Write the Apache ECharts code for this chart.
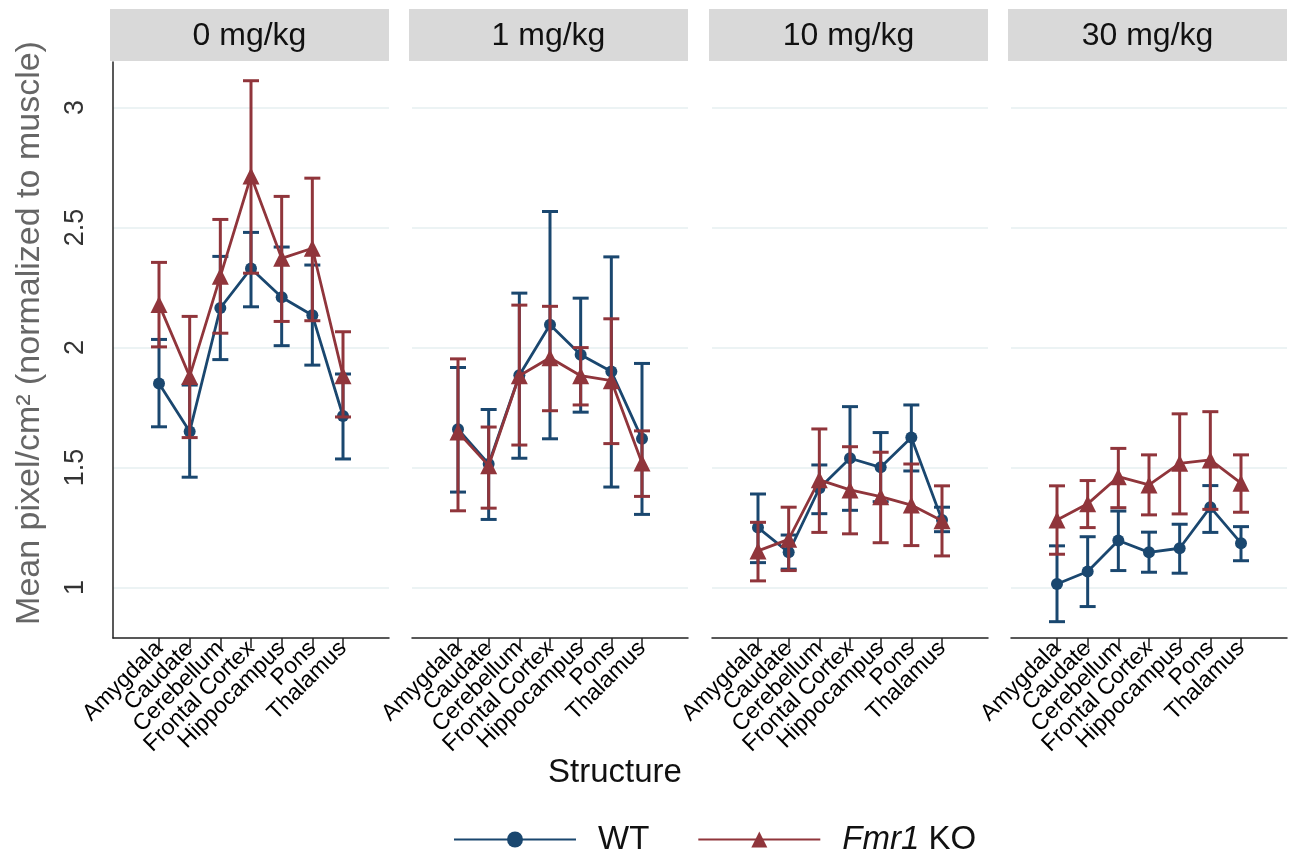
<!DOCTYPE html>
<html>
<head>
<meta charset="utf-8">
<script src="https://cdn.jsdelivr.net/npm/echarts@6/dist/echarts.min.js"></script>
<style>
  html, body { margin: 0; padding: 0; background: #fff; }
  #chart { width: 1295px; height: 856px; }
</style>
</head>
<body>
<div id="chart"></div>
<script>
const categories = ["Amygdala", "Caudate", "Cerebellum", "Frontal Cortex", "Hippocampus", "Pons", "Thalamus"]
const doses = ["0 mg/kg", "1 mg/kg", "10 mg/kg", "30 mg/kg"]
const yTicks = [1, 1.5, 2, 2.5, 3]

// one row per dose, one value per structure
const wtMean = [
  [1.85, 1.65, 2.165, 2.33, 2.21, 2.135, 1.715],
  [1.66, 1.515, 1.885, 2.095, 1.97, 1.9, 1.62],
  [1.25, 1.147, 1.414, 1.539, 1.501, 1.625, 1.282],
  [1.015, 1.067, 1.196, 1.147, 1.164, 1.335, 1.185],
]
const wtLow = [
  [1.67, 1.46, 1.95, 2.17, 2.008, 1.927, 1.536],
  [1.398, 1.284, 1.539, 1.62, 1.731, 1.419, 1.305],
  [1.104, 1.077, 1.308, 1.322, 1.358, 1.486, 1.233],
  [0.858, 0.921, 1.071, 1.064, 1.06, 1.23, 1.112],
]
const wtHigh = [
  [2.034, 1.844, 2.38, 2.48, 2.419, 2.344, 1.89],
  [1.917, 1.742, 2.227, 2.567, 2.206, 2.378, 1.934],
  [1.39, 1.219, 1.511, 1.754, 1.646, 1.761, 1.335],
  [1.174, 1.212, 1.319, 1.231, 1.264, 1.425, 1.254],
]
const koMean = [
  [2.18, 1.88, 2.297, 2.715, 2.372, 2.414, 1.883],
  [1.648, 1.508, 1.883, 1.958, 1.883, 1.862, 1.519],
  [1.153, 1.201, 1.449, 1.407, 1.379, 1.344, 1.279],
  [1.282, 1.349, 1.462, 1.428, 1.518, 1.532, 1.435],
]
const koLow = [
  [2.003, 1.625, 2.06, 2.31, 2.109, 2.112, 1.711],
  [1.32, 1.331, 1.594, 1.737, 1.761, 1.6, 1.38],
  [1.028, 1.071, 1.23, 1.224, 1.187, 1.175, 1.132],
  [1.139, 1.25, 1.333, 1.303, 1.307, 1.326, 1.314],
]
const koHigh = [
  [2.355, 2.13, 2.534, 3.112, 2.63, 2.706, 2.066],
  [1.953, 1.669, 2.177, 2.172, 2.0, 2.12, 1.653],
  [1.272, 1.335, 1.661, 1.587, 1.564, 1.515, 1.424],
  [1.424, 1.446, 1.58, 1.553, 1.724, 1.733, 1.553],
]

const WT_COLOR = "#1a476f"
const KO_COLOR = "#90353b"
const FONT = "'Liberation Sans', Arial, Helvetica, sans-serif"

const panelLeft = [113, 412, 712, 1011]
const panelWidth = 276
const gridTop = 62
const gridHeight = 576

// blank slot at each end gives the empty margin Stata leaves inside each panel
const xSlots = ["", ...categories, " "]

const chart = echarts.init(document.getElementById("chart"))

const grids = []
const xAxes = []
const yAxes = []
const series = []
const graphics = []

const errorBar = (color) => (params, api) => {
  const x = api.value(0)
  const lo = api.coord([x, api.value(1)])
  const hi = api.coord([x, api.value(2)])
  const half = 8
  const style = { stroke: color, lineWidth: 3 }
  return {
    type: "group",
    children: [
      { type: "line", shape: { x1: lo[0], y1: lo[1], x2: hi[0], y2: hi[1] }, style },
      { type: "line", shape: { x1: lo[0] - half, y1: lo[1], x2: lo[0] + half, y2: lo[1] }, style },
      { type: "line", shape: { x1: hi[0] - half, y1: hi[1], x2: hi[0] + half, y2: hi[1] }, style },
    ],
  }
}

const isReal = (i) => i > 0 && i < xSlots.length - 1

doses.forEach((dose, d) => {
  grids.push({ left: panelLeft[d], top: gridTop, width: panelWidth, height: gridHeight })

  xAxes.push({
    type: "category",
    gridIndex: d,
    data: xSlots,
    boundaryGap: true,
    axisLine: { show: true, onZero: false, lineStyle: { color: "#222", width: 1.5 } },
    axisTick: {
      show: true,
      length: 10,
      alignWithLabel: true,
      interval: (i) => isReal(i),
      lineStyle: { color: "#222", width: 1.5 },
    },
    axisLabel: {
      interval: 0,
      rotate: 45,
      margin: 7,
      fontSize: 23,
      color: "#000",
      fontFamily: FONT,
    },
    splitLine: { show: false },
  })

  yAxes.push({
    type: "value",
    gridIndex: d,
    min: 0.79,
    max: 3.19,
    axisLine: { show: d === 0, onZero: false, lineStyle: { color: "#222", width: 1.5 } },
    axisTick: { show: false, customValues: yTicks },
    axisLabel: {
      show: d === 0,
      customValues: yTicks,
      rotate: 90,
      margin: 24,
      fontSize: 27,
      color: "#333",
      fontFamily: FONT,
    },
    splitLine: { show: true, lineStyle: { color: "#e6eff1", width: 1.5 } },
  })

  const wtErr = categories.map((c, i) => [c, wtLow[d][i], wtHigh[d][i]])
  const koErr = categories.map((c, i) => [c, koLow[d][i], koHigh[d][i]])

  series.push({
    name: "WT-err",
    type: "custom",
    xAxisIndex: d,
    yAxisIndex: d,
    data: wtErr,
    encode: { x: 0, y: [1, 2] },
    renderItem: errorBar(WT_COLOR),
    z: 2,
  })
  series.push({
    name: "WT",
    type: "line",
    xAxisIndex: d,
    yAxisIndex: d,
    data: categories.map((c, i) => [c, wtMean[d][i]]),
    symbol: "circle",
    symbolSize: 12,
    lineStyle: { color: WT_COLOR, width: 2.8 },
    itemStyle: { color: WT_COLOR },
    z: 3,
  })
  series.push({
    name: "KO-err",
    type: "custom",
    xAxisIndex: d,
    yAxisIndex: d,
    data: koErr,
    encode: { x: 0, y: [1, 2] },
    renderItem: errorBar(KO_COLOR),
    z: 4,
  })
  series.push({
    name: "Fmr1 KO",
    type: "line",
    xAxisIndex: d,
    yAxisIndex: d,
    data: categories.map((c, i) => [c, koMean[d][i]]),
    symbol: "triangle",
    symbolSize: 17,
    lineStyle: { color: KO_COLOR, width: 2.8 },
    itemStyle: { color: KO_COLOR },
    z: 5,
  })

  // facet strip
  graphics.push({
    type: "rect",
    left: panelLeft[d] - 3,
    top: 9,
    shape: { width: panelWidth + 3, height: 52 },
    style: { fill: "#d9d9d9" },
    silent: true,
  })
  graphics.push({
    type: "text",
    x: panelLeft[d] - 3 + (panelWidth + 3) / 2,
    y: 36,
    style: {
      text: dose,
      fontSize: 32,
      fontFamily: FONT,
      fill: "#111",
      align: "center",
      verticalAlign: "middle",
    },
    silent: true,
  })
})

// y axis title
graphics.push({
  type: "text",
  x: 30,
  y: 333,
  rotation: Math.PI / 2,
  style: {
    text: "Mean pixel/cm² (normalized to muscle)",
    fontSize: 34,
    fontFamily: FONT,
    fill: "#666",
    align: "center",
    verticalAlign: "middle",
  },
  silent: true,
})

// x axis title
graphics.push({
  type: "text",
  x: 615,
  y: 773,
  style: {
    text: "Structure",
    fontSize: 33,
    fontFamily: FONT,
    fill: "#111",
    align: "center",
    verticalAlign: "middle",
  },
  silent: true,
})

const option = {
  backgroundColor: "#fff",
  animation: false,
  grid: grids,
  xAxis: xAxes,
  yAxis: yAxes,
  series: series,
  graphic: graphics,
  legend: {
    data: ["WT", "Fmr1 KO"],
    left: 448,
    top: 818,
    itemWidth: 122,
    itemHeight: 20,
    itemGap: 48,
    textStyle: {
      fontSize: 33,
      fontFamily: FONT,
      color: "#111",
      padding: [0, 0, 0, 17],
      rich: {
        i: { fontStyle: "italic", fontSize: 33, fontFamily: FONT, color: "#111" },
      },
    },
    formatter: (name) => (name === "Fmr1 KO" ? "{i|Fmr1} KO" : name),
  },
}

chart.setOption(option)

window.addEventListener("resize", () => chart.resize())
</script>
</body>
</html>
